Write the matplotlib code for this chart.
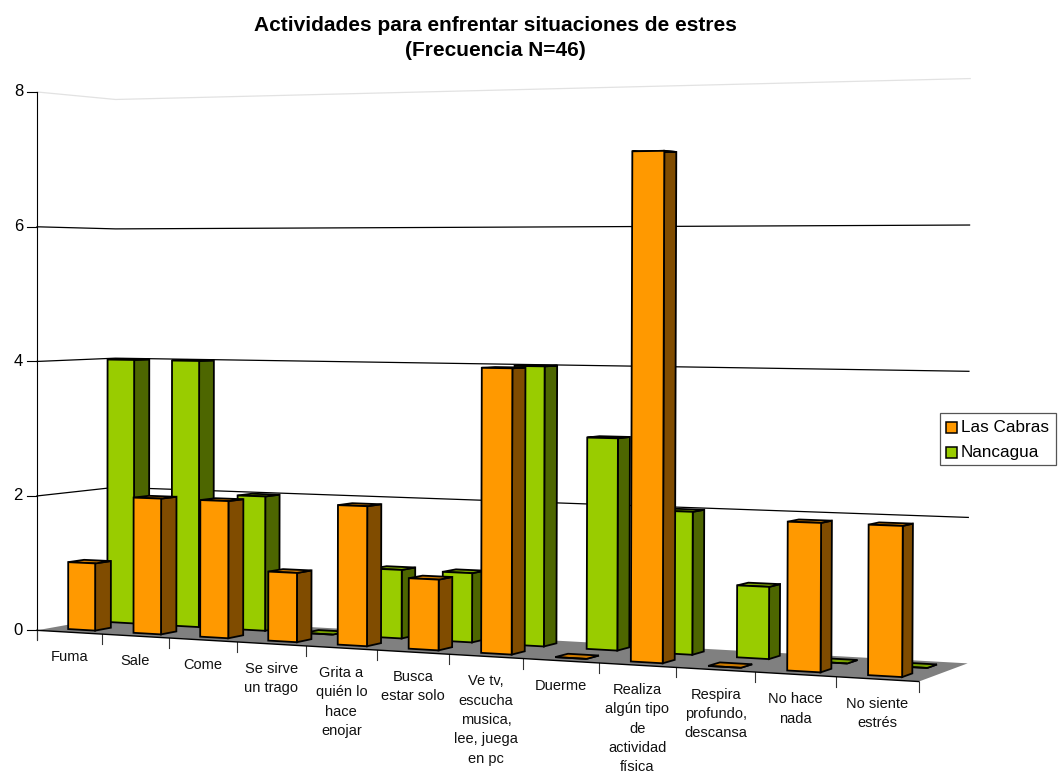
#!/usr/bin/env python3
"""3D-look column chart: actividades para enfrentar estres."""

import matplotlib
matplotlib.use('Agg')
import matplotlib.pyplot as plt
from matplotlib.patches import Polygon, Rectangle
import numpy as np

plt.rcParams['font.family'] = ['Liberation Sans', 'DejaVu Sans']

# ===== Data =====
categories = ['Fuma', 'Sale', 'Come', 'Se sirve\nun trago', 'Grita a\nquién lo\nhace\nenojar',
              'Busca\nestar solo', 'Ve tv,\nescucha\nmusica,\nlee, juega\nen pc', 'Duerme',
              'Realiza\nalgún tipo\nde\nactividad\nfísica', 'Respira\nprofundo,\ndescansa',
              'No hace\nnada', 'No siente\nestrés']
las_cabras = [1, 2, 2, 1, 2, 1, 4, 0, 7, 0, 2, 2]
nancagua = [4, 4, 2, 0, 1, 1, 4, 3, 2, 1, 0, 0]
y_ticks = [0, 2, 4, 6, 8]

# ===== Perspective: (category, depth, value) -> pixels, fitted on the box corners =====
n = len(categories)
tick_px = [37, 102, 169, 237, 306, 377, 449, 523, 599, 676, 756, 836, 919]
anchors = [(i, 0, 0, px, 630 + (px - 37) * 52 / 882) for i, px in enumerate(tick_px)]
anchors += [(12, 1, 0, 967, 662), (0, 1, 0, 117, 618), (0, 0, 8, 37, 92),
            (0, 1, 8, 117, 100), (12, 1, 8, 970, 79), (12, 1, 4, 970, 371),
            (0, 1, 4, 112, 357), (0, 0, 4, 37, 361)]
A, b = [], []
for x, d, z, u, v in anchors:
    A.append([x, d, z, 1, 0, 0, 0, 0, -u * x, -u * d, -u * z])
    A.append([0, 0, 0, 0, x, d, z, 1, -v * x, -v * d, -v * z])
    b += [u, v]
P = np.append(np.linalg.lstsq(np.array(A, float), np.array(b, float), rcond=None)[0], 1).reshape(3, 4)


def proj(x, d, z):
    u, v, w = P @ np.array([x, d, z, 1.0])
    return u / w, v / w


fig = plt.figure(figsize=(10.59, 7.73), dpi=100)
ax = fig.add_axes([0, 0, 1, 1])
ax.set_xlim(0, 1059)
ax.set_ylim(773, 0)
ax.axis('off')

# Floor
ax.add_patch(Polygon([proj(0, 0, 0), proj(n, 0, 0), proj(n, 1, 0), proj(0, 1, 0)],
                     facecolor='#808080', edgecolor='none', zorder=1))

# Gridlines on the two walls
for t in y_ticks[1:]:
    c = '#e2e2e2' if t == 8 else 'black'
    pts = [proj(0, 0, t), proj(0, 1, t), proj(n, 1, t)]
    ax.plot(*zip(*pts), color=c, lw=0.9, zorder=2, solid_joinstyle='miter')

# Axes lines and ticks
x0, y0 = proj(0, 0, 8)
ax.plot([x0, x0], [y0, proj(0, 0, 0)[1] + 9], color='black', lw=0.8, zorder=2)
for t in y_ticks:
    u, v = proj(0, 0, t)
    ax.plot([u - 10, u], [v, v], color='black', lw=0.8, zorder=2)
    ax.text(u - 14, v, str(t), ha='right', va='center', fontsize=12, color='black')
for i in range(n + 1):
    u, v = proj(i, 0, 0)
    ax.plot([u, u], [v, v + 10], color='#333333', lw=0.8, zorder=2)
ax.plot(*zip(proj(0, 0, 0), proj(n, 0, 0)), color='black', lw=1.0, zorder=2)

# Category labels
for i, lab in enumerate(categories):
    u, v = proj(i + 0.5, 0, 0)
    ax.text(u, v + 18, lab, ha='center', va='top', fontsize=10.5, linespacing=1.48, color='#111111')


# Columns
def column(i, val, d0, d1, front, side, top, z):
    x0, x1 = i + 0.285, i + 0.70
    faces = [([(x1, d0, 0), (x1, d1, 0), (x1, d1, val), (x1, d0, val)], side),
             ([(x0, d0, val), (x1, d0, val), (x1, d1, val), (x0, d1, val)], top),
             ([(x0, d0, 0), (x1, d0, 0), (x1, d0, val), (x0, d0, val)], front)]
    for pts, col in faces:
        ax.add_patch(Polygon([proj(*p) for p in pts], facecolor=col, edgecolor='black',
                             lw=1.3, joinstyle='miter', zorder=z))


z = 3
for i, val in enumerate(nancagua):
    column(i, val, 0.66, 0.86, '#99CC00', '#4D6600', '#7AA300', z)
    z += 0.01
for i, val in enumerate(las_cabras):
    column(i, val, 0.16, 0.36, '#FF9900', '#804C00', '#CC7A00', z)
    z += 0.01

# Title
ax.text(495, 38, 'Actividades para enfrentar situaciones de estres\n(Frecuencia N=46)',
        ha='center', va='center', fontsize=15, fontweight='bold', linespacing=1.42)

# Legend
ax.add_patch(Rectangle((940, 413), 116, 52, facecolor='white', edgecolor='#555555', lw=0.9, zorder=5))
for name, col, yy in [('Las Cabras', '#FF9900', 427), ('Nancagua', '#99CC00', 452)]:
    ax.add_patch(Rectangle((946, yy - 5), 11, 11, facecolor=col, edgecolor='black', lw=1.1, zorder=6))
    ax.text(961, yy, name, ha='left', va='center', fontsize=12.3, zorder=6)

fig.savefig('out.png', dpi=100, facecolor='white')
